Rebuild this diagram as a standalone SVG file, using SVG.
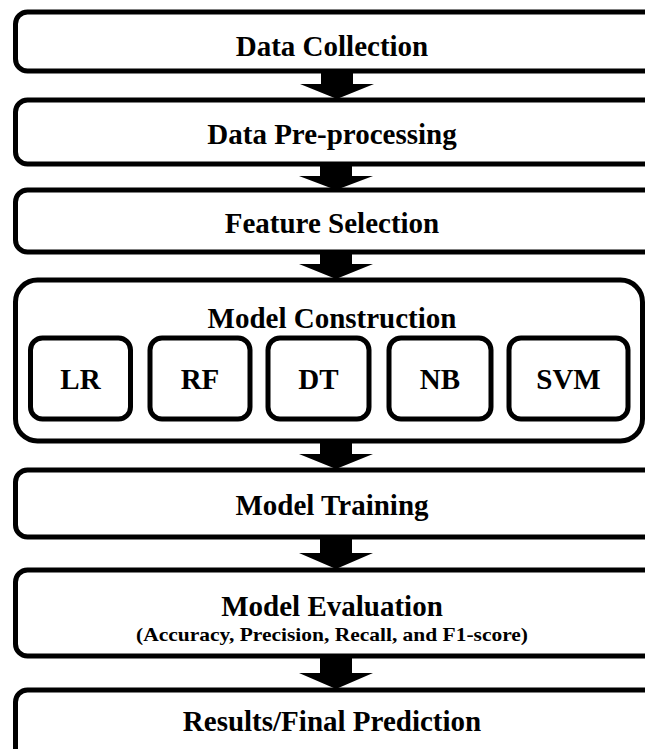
<svg xmlns="http://www.w3.org/2000/svg" width="645" height="749" viewBox="0 0 645 749">
<style>
.box{fill:#fff;stroke:#000;stroke-width:5}
.t{font-family:"Liberation Serif","Times New Roman",serif;font-weight:bold;font-size:29px;text-anchor:middle;fill:#000}
.s{font-family:"Liberation Serif","Times New Roman",serif;font-weight:bold;font-size:19px;text-anchor:middle;fill:#000}
.arr{fill:#000}
</style>
<rect width="645" height="749" fill="#fff"/>
<g id="connectors">
<polygon class="arr" points="321,72 353,72 353,84 374,84 337,99 300,84 321,84"/>
<polygon class="arr" points="320,164 352,164 352,176 373,176 336,190 299,176 320,176"/>
<polygon class="arr" points="320,252 352,252 352,264 373,264 336,279 299,264 320,264"/>
<polygon class="arr" points="320,440 352,440 352,454 373,454 336,469 299,454 320,454"/>
<polygon class="arr" points="320,537 352,537 352,553 373,553 336,569 299,553 320,553"/>
<polygon class="arr" points="320,656 352,656 352,673 373,673 336,689 299,673 320,673"/>
</g>
<g id="data-collection">
<rect class="box" x="15.5" y="12" width="640" height="59" rx="12"/>
<text class="t" x="332" y="56">Data Collection</text>
</g>
<g id="data-preprocessing">
<rect class="box" x="15.5" y="100" width="640" height="64" rx="12"/>
<text class="t" x="332" y="144">Data Pre-processing</text>
</g>
<g id="feature-selection">
<rect class="box" x="15.5" y="190" width="640" height="62" rx="12"/>
<text class="t" x="332" y="233">Feature Selection</text>
</g>
<g id="model-construction">
<rect class="box" x="15.5" y="280" width="627" height="161" rx="22"/>
<text class="t" x="332" y="328">Model Construction</text>
</g>
<g id="lr">
<rect class="box" x="30.5" y="338" width="100" height="81" rx="12"/>
<text class="t" x="80.5" y="389">LR</text>
</g>
<g id="rf">
<rect class="box" x="150" y="338" width="100" height="81" rx="12"/>
<text class="t" x="200" y="389">RF</text>
</g>
<g id="dt">
<rect class="box" x="268" y="338" width="101" height="81" rx="12"/>
<text class="t" x="318.5" y="389">DT</text>
</g>
<g id="nb">
<rect class="box" x="389" y="338" width="102" height="81" rx="12"/>
<text class="t" x="440" y="389">NB</text>
</g>
<g id="svm">
<rect class="box" x="509" y="338" width="119" height="81" rx="12"/>
<text class="t" x="568.5" y="389">SVM</text>
</g>
<g id="model-training">
<rect class="box" x="15.5" y="470" width="640" height="67" rx="12"/>
<text class="t" x="332" y="515">Model Training</text>
</g>
<g id="model-evaluation">
<rect class="box" x="15.5" y="570" width="640" height="86" rx="12"/>
<text class="t" x="332" y="616">Model Evaluation</text>
<text class="s" x="332" y="641" textLength="392" lengthAdjust="spacingAndGlyphs">(Accuracy, Precision, Recall, and F1-score)</text>
</g>
<g id="results">
<rect class="box" x="15.5" y="690" width="640" height="80" rx="12"/>
<text class="t" x="332" y="731">Results/Final Prediction</text>
</g>
</svg>
